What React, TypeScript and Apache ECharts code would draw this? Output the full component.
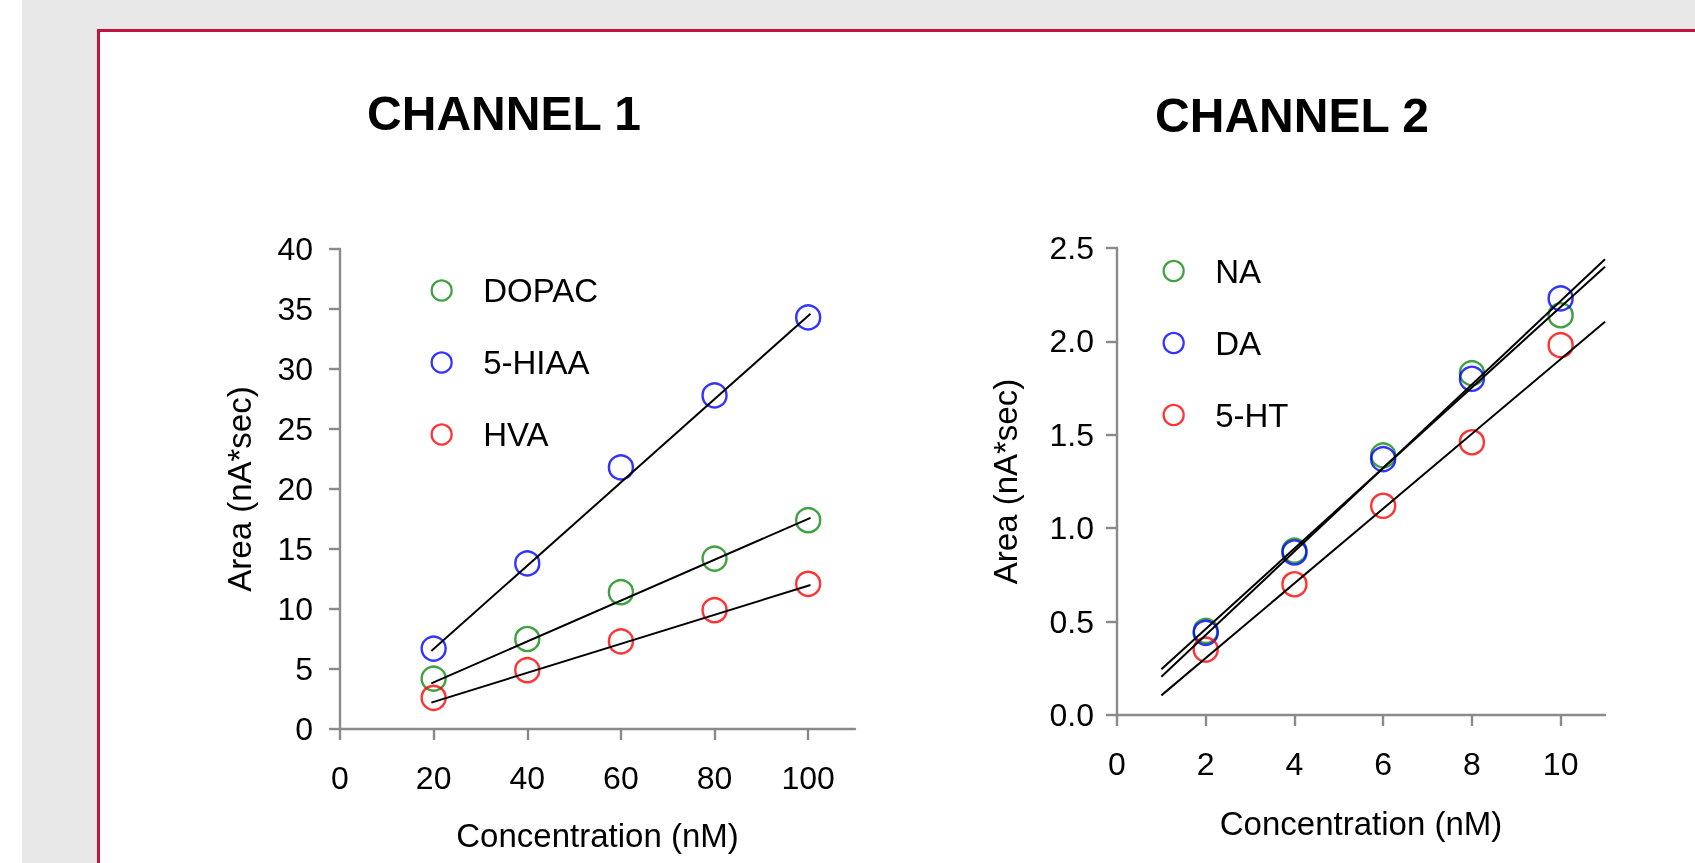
import React, { useEffect, useRef } from "react";
import * as echarts from "echarts";

// ---------- data ----------
const ch1Conc = [20, 40, 60, 80, 100];
const dopac = [4.2, 7.5, 11.4, 14.2, 17.4];
const hiaa = [6.7, 13.8, 21.8, 27.8, 34.3];
const hva = [2.6, 4.9, 7.3, 9.9, 12.1];
const dopacFit = [[19.5, 3.8], [100.5, 17.6]];
const hiaaFit = [[19.5, 6.5], [100.5, 34.6]];
const hvaFit = [[19.5, 2.2], [100.5, 12.0]];
const ch1XTicks = [0, 20, 40, 60, 80, 100];

const ch2Conc = [2, 4, 6, 8, 10];
const na = [0.45, 0.88, 1.39, 1.83, 2.14];
const da = [0.44, 0.87, 1.37, 1.8, 2.23];
const ht = [0.35, 0.7, 1.12, 1.46, 1.98];
const naFit = [[1, 0.245], [11, 2.4]];
const daFit = [[1, 0.205], [11, 2.44]];
const htFit = [[1, 0.105], [11, 2.105]];
const ch2XTicks = [0, 2, 4, 6, 8, 10];

const titles = ["CHANNEL 1", "CHANNEL 2"];
const yName = "Area (nA*sec)";
const xName = "Concentration (nM)";

const GREEN = "#128a12";
const BLUE = "#0000ff";
const RED = "#ff0000";
const FONT = "'Liberation Sans', Arial, sans-serif";
const AXIS = "#8a8a8a";

const zip = (xs: number[], ys: number[]) => xs.map((x, i) => [x, ys[i]]);

function scatter(name: string, color: string, data: number[][], ax: number) {
  return {
    type: "scatter",
    name,
    xAxisIndex: ax,
    yAxisIndex: ax,
    data,
    symbol: "circle",
    symbolSize: 24,
    itemStyle: { color: "rgba(0,0,0,0)", borderColor: color, borderWidth: 2.4 },
    z: 2,
  };
}
function fit(data: number[][], ax: number) {
  return {
    type: "line",
    xAxisIndex: ax,
    yAxisIndex: ax,
    data,
    symbol: "none",
    lineStyle: { color: "#000", width: 2 },
    z: 3,
    silent: true,
  };
}

function axisCommon() {
  return {
    axisLine: { show: true, onZero: false, lineStyle: { color: AXIS, width: 2.4 } },
    axisTick: { show: true, length: 11, lineStyle: { color: AXIS, width: 2.4 } },
    splitLine: { show: false },
    nameLocation: "middle",
    nameTextStyle: { fontSize: 33, color: "#000", fontFamily: FONT },
  };
}

function legendItem(name: string, color: string) {
  return {
    name,
    itemStyle: { color: "rgba(0,0,0,0)", borderColor: color, borderWidth: 2.3 },
  };
}

export default function App() {
  const ref = useRef<HTMLDivElement>(null);
  useEffect(() => {
    if (!ref.current) return;
    const chart = echarts.init(ref.current, null, { renderer: "svg" });
    const option: any = {
      animation: false,
      textStyle: { fontFamily: FONT },
      graphic: [
        { type: "rect", z: -100, shape: { x: 0, y: 0, width: 1695, height: 863 }, style: { fill: "#e8e8e8" }, silent: true },
        { type: "rect", z: -99, shape: { x: 0, y: 0, width: 22, height: 863 }, style: { fill: "#ffffff" }, silent: true },
        { type: "rect", z: -98, shape: { x: 98.5, y: 30.5, width: 1700, height: 900 }, style: { fill: "#ffffff", stroke: "#c0143c", lineWidth: 3 }, silent: true },
        { type: "text", z: 10, x: 504, y: 113, style: { text: titles[0], fontSize: 48, fontWeight: "bold", fill: "#000", fontFamily: FONT, align: "center", verticalAlign: "middle" } },
        { type: "text", z: 10, x: 1292, y: 115, style: { text: titles[1], fontSize: 48, fontWeight: "bold", fill: "#000", fontFamily: FONT, align: "center", verticalAlign: "middle" } },
      ],
      grid: [
        { left: 340, top: 249, width: 515, height: 480 },
        { left: 1117, top: 248, width: 488, height: 467 },
      ],
      xAxis: [
        {
          ...axisCommon(),
          type: "value",
          gridIndex: 0,
          min: 0,
          max: 110,
          interval: 20,
          name: xName,
          nameGap: 90,
          axisTick: { show: true, length: 11, lineStyle: { color: AXIS, width: 2.4 }, customValues: ch1XTicks },
          axisLabel: { customValues: ch1XTicks, fontSize: 32, color: "#000", margin: 33, fontFamily: FONT },
        },
        {
          ...axisCommon(),
          type: "value",
          gridIndex: 1,
          min: 0,
          max: 11,
          interval: 2,
          name: xName,
          nameGap: 92,
          axisTick: { show: true, length: 11, lineStyle: { color: AXIS, width: 2.4 }, customValues: ch2XTicks },
          axisLabel: { customValues: ch2XTicks, fontSize: 32, color: "#000", margin: 33, fontFamily: FONT },
        },
      ],
      yAxis: [
        {
          ...axisCommon(),
          type: "value",
          gridIndex: 0,
          min: 0,
          max: 40,
          interval: 5,
          name: yName,
          nameGap: 84,
          axisLabel: { fontSize: 32, color: "#000", margin: 27, fontFamily: FONT },
        },
        {
          ...axisCommon(),
          type: "value",
          gridIndex: 1,
          min: 0,
          max: 2.5,
          interval: 0.5,
          name: yName,
          nameGap: 95,
          axisLabel: { fontSize: 32, color: "#000", margin: 23, fontFamily: FONT, formatter: (v: number) => v.toFixed(1) },
        },
      ],
      legend: [
        {
          data: [legendItem("DOPAC", GREEN), legendItem("5-HIAA", BLUE), legendItem("HVA", RED)],
          orient: "vertical",
          left: 425.5,
          top: 269,
          itemWidth: 73,
          itemHeight: 20,
          itemGap: 39,
          icon: "circle",
          selectedMode: false,
          textStyle: { fontSize: 33, color: "#000", fontFamily: FONT },
        },
        {
          data: [legendItem("NA", GREEN), legendItem("DA", BLUE), legendItem("5-HT", RED)],
          orient: "vertical",
          left: 1157.5,
          top: 249.5,
          itemWidth: 73,
          itemHeight: 20,
          itemGap: 39,
          icon: "circle",
          selectedMode: false,
          textStyle: { fontSize: 33, color: "#000", fontFamily: FONT },
        },
      ],
      series: [
        scatter("DOPAC", GREEN, zip(ch1Conc, dopac), 0),
        scatter("5-HIAA", BLUE, zip(ch1Conc, hiaa), 0),
        scatter("HVA", RED, zip(ch1Conc, hva), 0),
        fit(dopacFit, 0),
        fit(hiaaFit, 0),
        fit(hvaFit, 0),
        scatter("NA", GREEN, zip(ch2Conc, na), 1),
        scatter("DA", BLUE, zip(ch2Conc, da), 1),
        scatter("5-HT", RED, zip(ch2Conc, ht), 1),
        fit(naFit, 1),
        fit(daFit, 1),
        fit(htFit, 1),
      ],
    };
    chart.setOption(option);
    return () => chart.dispose();
  }, []);
  return (
    <div
      ref={ref}
      style={{ position: "fixed", left: 0, top: 0, width: 1695, height: 863 }}
    />
  );
}
